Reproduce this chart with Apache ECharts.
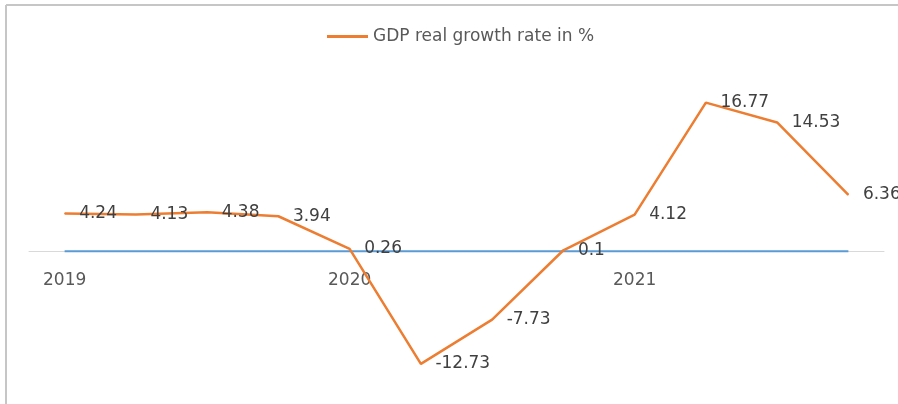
<!DOCTYPE html>
<html>
<head>
<meta charset="utf-8">
<script src="https://cdn.jsdelivr.net/npm/echarts@6/dist/echarts.min.js"></script>
<style>
  html, body { margin: 0; padding: 0; background: #fff; }
  #main { width: 898px; height: 404px; }
</style>
</head>
<body>
<div id="main"></div>
<script>
// quarters 2019 Q1 .. 2021 Q4
var quarters = ['2019 Q1', '2019 Q2', '2019 Q3', '2019 Q4',
                '2020 Q1', '2020 Q2', '2020 Q3', '2020 Q4',
                '2021 Q1', '2021 Q2', '2021 Q3', '2021 Q4'];
var gdpGrowth = [4.24, 4.13, 4.38, 3.94, 0.26, -12.73, -7.73, 0.1, 4.12, 16.77, 14.53, 6.36];
var zeroLine = [0, 0, 0, 0, 0, 0, 0, 0, 0, 0, 0, 0];
var seriesName = 'GDP real growth rate in %';

var chart = echarts.init(document.getElementById('main'));

var font = 'DejaVu Sans';
// zero line sits 133px above the grid bottom (74 + 310 = 384, zero at 251)
var zeroOffset = -133;

var option = {
    animation: false,
    textStyle: { fontFamily: font },
    graphic: [
        { type: 'line', shape: { x1: 6, y1: 5, x2: 898, y2: 5 }, style: { stroke: '#c6c6c6', lineWidth: 2 } },
        { type: 'line', shape: { x1: 6, y1: 5, x2: 6, y2: 404 }, style: { stroke: '#c6c6c6', lineWidth: 2 } }
    ],
    legend: {
        data: [seriesName],
        left: 322,
        top: 23,
        icon: 'rect',
        itemWidth: 41,
        itemHeight: 3,
        textStyle: { fontFamily: font, fontSize: 17, color: '#595959' }
    },
    grid: {
        left: 29,
        right: 14,
        top: 74,
        height: 310,
        outerBoundsMode: 'none',
        containLabel: false
    },
    xAxis: [{
        type: 'category',
        data: quarters,
        boundaryGap: true,
        position: 'bottom',
        offset: zeroOffset,
        axisLine: { onZero: false, lineStyle: { color: '#d9d9d9', width: 1 } },
        axisTick: { show: false },
        axisLabel: {
            interval: 3,
            margin: 21,
            fontSize: 17,
            color: '#595959',
            fontFamily: font,
            formatter: function (v) { return v.split(' ')[0]; }
        }
    }],
    yAxis: {
        type: 'value',
        min: -15,
        max: 20,
        show: false,
        splitLine: { show: false }
    },
    series: [{
        name: 'zero',
        type: 'line',
        data: zeroLine,
        symbol: 'none',
        lineStyle: { color: '#5b9bd5', width: 2 },
        z: 2
    }, {
        name: seriesName,
        type: 'line',
        data: gdpGrowth,
        symbol: 'circle',
        symbolSize: 1,
        itemStyle: { color: '#ed7d31' },
        lineStyle: { color: '#ed7d31', width: 2.5 },
        label: {
            show: true,
            position: 'right',
            distance: 14,
            fontSize: 17,
            color: '#404040',
            fontFamily: font
        },
        z: 3
    }]
};

chart.setOption(option);
</script>
</body>
</html>
